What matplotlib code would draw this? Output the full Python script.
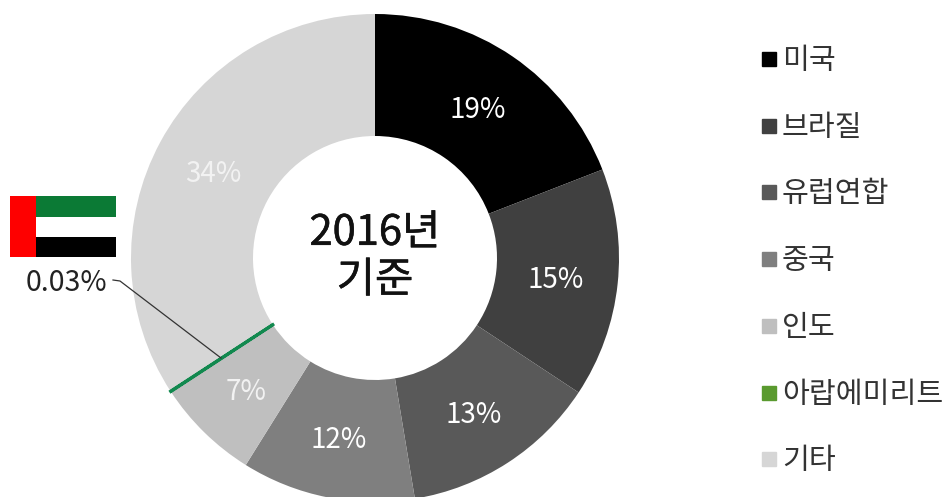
import numpy as np
import matplotlib
matplotlib.use("Agg")
import matplotlib.pyplot as plt
import matplotlib.patheffects as pe
from matplotlib.lines import Line2D
from matplotlib.patches import Rectangle

plt.rcParams["font.family"] = ["Noto Sans CJK KR", "DejaVu Sans"]

categorias = ["미국", "브라질", "유럽연합", "중국", "인도", "아랍에미리트", "기타"]
# valores lidos pelos angulos das fatias; os rotulos sao os arredondados
valores = [19.1, 15.2, 13.1, 11.5, 6.9, 0.03, 34.2]
rotulos = ["19%", "15%", "13%", "12%", "7%", None, "34%"]
cores_fatia = ["#000000", "#404040", "#595959", "#7f7f7f", "#bfbfbf", "#12894f", "#d6d6d6"]
cores_legenda = ["#000000", "#404040", "#595959", "#7f7f7f", "#bfbfbf", "#5a9a2f", "#d6d6d6"]
cores_texto = ["white", "white", "white", "white", "#f2f2f2", None, "#f2f2f2"]

W, H = 945, 497
fig = plt.figure(figsize=(W / 100, H / 100), dpi=100)
ax = fig.add_axes([0, 0, 1, 1])


def py(y):
    # coordenada em pixels a partir do topo
    return H - y


cx, cy, raio = 375, py(258), 244
fatias, _ = ax.pie(
    valores,
    colors=cores_fatia,
    center=(cx, cy),
    radius=raio,
    startangle=90,
    counterclock=False,
    frame=True,
    wedgeprops=dict(width=raio / 2, linewidth=0),
)
ax.set_xlim(0, W)
ax.set_ylim(0, H)
ax.set_aspect("auto")
ax.axis("off")

# fatia minuscula precisa de contorno para aparecer
fatias[5].set_edgecolor(cores_fatia[5])
fatias[5].set_linewidth(2.2)
fatias[5].set_zorder(5)

for w, txt, cor in zip(fatias, rotulos, cores_texto):
    if txt is None:
        continue
    ang = np.deg2rad((w.theta1 + w.theta2) / 2)
    ax.text(cx + 0.75 * raio * np.cos(ang) - 1, cy + 0.75 * raio * np.sin(ang) - 3, txt,
            color=cor, fontsize=20, ha="center", va="center")

ax.text(cx, py(257), "2016년\n기준", fontsize=30, color="#111111",
        ha="center", va="center", linespacing=1.2,
        path_effects=[pe.withStroke(linewidth=0.4, foreground="#111111")])

# bandeira
ax.add_patch(Rectangle((36, py(217)), 80, 21, color="#0b7a35", lw=0))
ax.add_patch(Rectangle((36, py(237)), 80, 20, color="white", lw=0))
ax.add_patch(Rectangle((36, py(257)), 80, 20, color="black", lw=0))
ax.add_patch(Rectangle((10, py(257)), 26, 61, color="#fe0000", lw=0))

ax.text(66, py(283), "0.03%", fontsize=20.5, color="#222222", ha="center", va="center")
ax.plot([113, 120, 221], [py(280), py(281), py(358)], color="#333333", lw=0.9, zorder=6)

# legenda
alcas = [Line2D([], [], ls="", marker="s", ms=10, color=c) for c in cores_legenda]
leg = ax.legend(
    alcas, categorias,
    loc="upper left",
    bbox_to_anchor=(755.5 / W, 1 - 46 / H),
    frameon=False,
    fontsize=21,
    labelcolor="#333333",
    handlelength=0.9,
    handletextpad=0,
    labelspacing=1.26,
    borderpad=0,
    borderaxespad=0,
)

fig.savefig("out.png", dpi=100)
